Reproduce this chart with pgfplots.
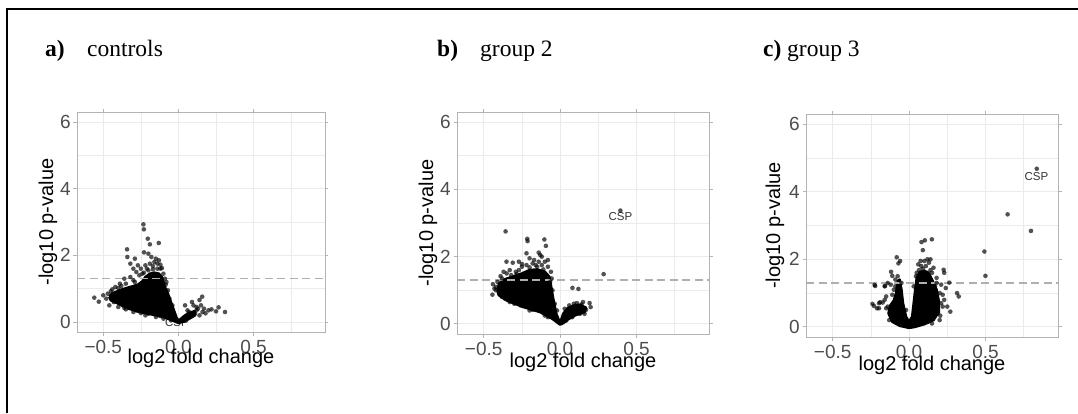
\documentclass[border=0pt]{standalone}
\usepackage{pgfplots}
\pgfplotsset{compat=1.18}
\usepackage{fontspec}
\setmainfont{Liberation Serif}
\newfontfamily\arial{Liberation Sans}
\definecolor{gridc}{HTML}{EBEBEB}
\definecolor{tickc}{HTML}{4D4D4D}
\definecolor{borderc}{HTML}{B3B3B3}
\definecolor{hlinec}{HTML}{AFAFAF}

\pgfplotsset{volc/.style={
  scale only axis,
  xmin=-0.675, xmax=0.975, ymin=-0.3, ymax=6.3,
  xtick={-0.5,0,0.5}, xticklabels={−0.5,0.0,0.5},
  ytick={0,2,4,6}, yticklabels={0,2,4,6},
  minor xtick={-0.25,0.25,0.75}, minor ytick={1,3,5},
  grid=both,
  major grid style={gridc, line width=0.9pt},
  minor grid style={gridc, line width=0.6pt},
  axis line style={borderc, line width=0.9pt},
  tick align=outside, major tick length=3.5pt, minor tick length=0pt,
  major tick style={borderc, line width=0.9pt},
  ticklabel style={font=\arial\fontsize{19}{19}\selectfont, text=tickc, inner sep=0pt},
  xticklabel style={anchor=base, yshift=-18pt},
  yticklabel style={anchor=east, xshift=-2.5pt},
  label style={font=\arial\fontsize{20}{20}\selectfont, inner sep=0pt},
  xlabel={log2 fold change}, ylabel={-log10 p-value},
  clip=true,
}}
\pgfplotsset{pts/.style={only marks, mark=*, mark size=2.3pt,
  mark options={fill=black, fill opacity=0.68, draw opacity=0, line width=0pt}}}
\pgfplotsset{blob/.style={fill=black, draw=black, line width=2.5pt, line join=round}}
\pgfplotsset{hl/.style={hlinec, line width=1.4pt, dash pattern=on 8pt off 4.5pt}}

\begin{document}
\begin{tikzpicture}[x=1pt,y=1pt]
\useasboundingbox (0,0) rectangle (1078,413);
\draw[line width=1.6pt] (7,0) -- (7,404) -- (1078,404);

% titles
\node[anchor=base west, inner sep=0pt, font=\fontsize{23.5}{24}\selectfont] at (45,356) {\textbf{a)}};
\node[anchor=base west, inner sep=0pt, font=\fontsize{23.5}{24}\selectfont] at (87,356) {controls};
\node[anchor=base west, inner sep=0pt, font=\fontsize{23.5}{24}\selectfont] at (437,356) {\textbf{b)}};
\node[anchor=base west, inner sep=0pt, font=\fontsize{23.5}{24}\selectfont] at (480,356) {group 2};
\node[anchor=base west, inner sep=0pt, font=\fontsize{23.5}{24}\selectfont] at (763,356) {\textbf{c)}};
\node[anchor=base west, inner sep=0pt, font=\fontsize{23.5}{24}\selectfont] at (787,356) {group 3};

% ---------------- panel a
\begin{axis}[volc, at={(77pt,81pt)}, anchor=south west, width=248pt, height=220pt,
  xlabel style={at={(axis description cs:0.5,-0.145)}, anchor=base},
  ylabel style={at={(axis description cs:-0.117,0.5)}, anchor=center}]
\node[font=\arial\fontsize{11.5}{12}\selectfont, text=black!80] at (axis cs:-0.01,-0.03) {CSP};
\addplot[blob] coordinates {
(-0.46,0.76) (-0.44,0.86) (-0.38,0.97) (-0.33,1.04) (-0.27,1.12) (-0.24,1.22) (-0.22,1.35)
(-0.19,1.45) (-0.16,1.48) (-0.13,1.45) (-0.11,1.35) (-0.1,1.2) (-0.09,1.05) (-0.07,0.85)
(-0.05,0.6) (-0.03,0.35) (-0.01,0.1) (0.0,0.03) (0.03,0.15) (0.06,0.25) (0.09,0.3)
(0.11,0.33) (0.11,0.2) (0.08,0.12) (0.04,0.02) (0.0,-0.03) (-0.04,0.05) (-0.1,0.15)
(-0.17,0.22) (-0.26,0.3) (-0.33,0.4) (-0.4,0.55) (-0.45,0.65) (-0.46,0.76)};
\addplot[pts] coordinates {
(-0.233,2.93) (-0.23,2.78) (-0.204,2.5) (-0.131,2.37) (-0.19,2.33) (-0.342,2.18) (-0.229,2.09)
(-0.29,1.9) (-0.34,1.95) (-0.32,1.75) (-0.3,1.6) (-0.27,1.7) (-0.2,2.05) (-0.18,1.95)
(-0.15,1.9) (-0.13,1.85) (-0.12,1.6) (-0.25,1.6) (-0.28,1.5) (-0.32,1.35) (-0.36,1.3)
(-0.39,1.15) (-0.42,1.05) (-0.45,0.92) (-0.47,0.85) (-0.56,0.73) (-0.53,0.61) (-0.4,0.45)
(-0.35,0.38) (-0.3,0.3) (-0.22,0.2) (-0.15,0.15) (-0.1,0.1) (0.02,0.05) (0.05,0.15)
(0.09,0.6) (0.044,0.5) (0.1,0.5) (0.12,0.45) (0.13,0.4) (0.14,0.66) (0.158,0.76) (0.16,0.3)
(0.18,0.26) (0.22,0.38) (0.267,0.44) (0.31,0.3) (0.14,0.2) (0.11,0.25) (0.07,0.3)
(-0.08,1.2) (-0.07,0.95) (-0.06,0.7) (-0.04,0.5) (-0.1,1.45) (-0.11,1.62) (-0.14,1.75)
(-0.17,1.68) (-0.21,1.6) (-0.24,1.45) (-0.19,1.75) (-0.16,1.8) (-0.12,1.72) (-0.22,1.7)
(-0.26,1.4) (-0.3,1.25) (-0.35,1.15) (-0.4,1.02) (-0.44,0.98) (-0.5,0.8) (-0.48,0.7)
(-0.43,0.6) (-0.37,0.5) (-0.28,0.35) (-0.2,0.25) (-0.12,0.18) (0.03,0.1) (0.06,0.35)
(0.08,0.2) (0.12,0.35) (0.15,0.5) (0.17,0.4) (0.2,0.35) (0.25,0.32)
(-0.2,1.55) (-0.17,1.58) (-0.14,1.6) (-0.23,1.48) (-0.09,1.3) (-0.085,1.12) (-0.29,1.2)
(-0.38,1.08) (-0.46,0.5) (-0.36,0.42) (-0.25,0.27) (-0.05,0.05)};
\addplot[hl] coordinates {(-0.675,1.3) (0.975,1.3)};
\end{axis}

% ---------------- panel b
\begin{axis}[volc, at={(457pt,79pt)}, anchor=south west, width=252pt, height=222pt,
  xlabel style={at={(axis description cs:0.5,-0.15)}, anchor=base},
  ylabel style={at={(axis description cs:-0.115,0.5)}, anchor=center}]
\addplot[blob] coordinates {
(-0.41,0.98) (-0.4,1.2) (-0.36,1.33) (-0.3,1.42) (-0.25,1.5) (-0.2,1.6) (-0.15,1.62)
(-0.1,1.55) (-0.07,1.4) (-0.06,1.15) (-0.045,0.75) (-0.025,0.3) (0.0,0.03) (0.02,0.3)
(0.05,0.47) (0.09,0.55) (0.13,0.57) (0.17,0.48) (0.16,0.35) (0.1,0.26) (0.05,0.13)
(0.02,0.02) (0.0,-0.02) (-0.05,0.15) (-0.13,0.35) (-0.24,0.5) (-0.35,0.7) (-0.4,0.85) (-0.41,0.98)};
\addplot[pts] coordinates {
(-0.357,2.75) (-0.215,2.53) (-0.213,2.46) (-0.103,2.51) (-0.093,2.32) (-0.351,1.85)
(-0.31,1.82) (-0.27,1.85) (-0.22,2.1) (-0.2,1.95) (-0.14,2.12) (-0.13,2.05) (-0.12,2.0)
(-0.08,1.9) (-0.17,1.9) (-0.25,1.78) (-0.44,1.18) (-0.443,0.87) (-0.42,1.1) (-0.38,1.35)
(-0.37,1.55) (-0.33,1.6) (-0.285,1.48) (0.285,1.48) (0.081,1.07) (0.12,1.04) (0.193,0.62)
(0.15,0.65) (0.11,0.62) (0.06,0.55) (0.03,0.45) (0.2,0.5) (0.17,0.42) (-0.06,1.55)
(-0.055,1.35) (-0.05,1.0) (-0.035,0.6) (-0.02,0.4) (-0.1,0.25) (-0.2,0.4) (-0.3,0.6)
(-0.36,0.75) (-0.4,0.9) (-0.42,1.0) (-0.36,1.2) (-0.39,1.42) (-0.32,1.45) (-0.08,1.7)
(-0.1,1.85) (-0.16,1.75) (-0.25,1.7) (-0.27,1.6) (-0.22,1.75) (-0.18,1.8) (-0.12,1.75)
(-0.14,1.85) (-0.35,1.5) (-0.41,1.25) (-0.43,1.05) (-0.38,0.8) (-0.33,0.65) (-0.26,0.55)
(-0.18,0.42) (-0.08,0.2) (0.04,0.1) (0.08,0.2) (0.13,0.3) (0.16,0.3) (0.14,0.58) (0.09,0.6)
(-0.2,1.68) (-0.15,1.7) (-0.11,1.62) (-0.29,1.55) (-0.065,1.25) (0.395,3.37)};
\node[font=\arial\fontsize{11.5}{12}\selectfont, text=black!80] at (axis cs:0.395,3.18) {CSP};
\addplot[hl] coordinates {(-0.675,1.3) (0.975,1.3)};
\end{axis}

% ---------------- panel c
\begin{axis}[volc, at={(806pt,76pt)}, anchor=south west, width=252pt, height=223pt,
  xlabel style={at={(axis description cs:0.5,-0.15)}, anchor=base},
  ylabel style={at={(axis description cs:-0.123,0.5)}, anchor=center}]
\addplot[blob] coordinates {
(0,-0.03) (-0.06,0.03) (-0.11,0.15) (-0.135,0.4) (-0.125,0.62) (-0.1,0.78) (-0.085,1.0)
(-0.075,1.35) (-0.062,1.4) (-0.05,1.1) (-0.04,0.7) (-0.02,0.3) (0.0,0.15) (0.02,0.3)
(0.03,0.7) (0.04,1.1) (0.05,1.45) (0.07,1.62) (0.1,1.66) (0.13,1.58) (0.15,1.4) (0.18,1.1)
(0.195,0.75) (0.195,0.45) (0.16,0.2) (0.1,0.08) (0.04,0.0) (0,-0.03)};
\addplot[pts] coordinates {
(0.836,4.68) (0.645,3.33) (0.798,2.84) (0.493,2.23) (0.5,1.51) (0.081,2.51) (0.103,2.56)
(0.149,2.59) (0.09,2.27) (-0.081,2.06) (-0.059,1.95) (-0.07,1.88) (-0.118,1.63) (-0.11,1.51)
(-0.222,1.21) (-0.158,1.21) (-0.197,0.70) (-0.173,0.72) (-0.197,0.55) (0.226,1.69) (0.23,1.6)
(0.314,1.0) (0.325,0.9) (0.263,1.31) (0.14,2.0) (0.075,1.95) (0.204,0.33) (0.12,2.0)
(0.1,1.95) (0.06,1.85) (0.13,1.9) (0.16,1.75) (0.18,1.3) (0.21,1.25) (0.24,1.15) (0.22,0.95)
(0.23,0.8) (0.22,0.6) (0.19,0.4) (0.12,0.15) (-0.14,1.3) (-0.12,1.25) (-0.1,1.1) (-0.15,0.9)
(-0.16,0.8) (-0.15,0.55) (-0.12,0.35) (-0.09,0.2) (-0.05,1.3) (-0.07,0.9) (-0.02,0.5)
(0.05,1.6) (0.12,1.6) (0.17,0.6) (0.25,0.6) (0.27,0.45) (0.18,1.45) (-0.09,1.4)
(-0.24,0.68) (-0.23,0.62) (-0.21,0.55) (-0.226,1.24) (-0.16,1.2) (-0.19,0.73) (0.08,1.8)
(0.11,1.8) (0.15,1.6) (0.2,1.0) (0.21,0.7) (0.2,0.2) (0.15,0.1) (-0.13,0.2) (-0.14,0.6)
(-0.11,0.95) (-0.09,1.2) (-0.075,1.5) (0.045,1.5) (0.03,1.2) (0.09,1.72) (0.065,1.68)
(0.14,1.68) (0.17,1.2)};
\node[font=\arial\fontsize{11.5}{12}\selectfont, text=black!80] at (axis cs:0.834,4.44) {CSP};
\addplot[hl] coordinates {(-0.675,1.3) (0.975,1.3)};
\end{axis}
\end{tikzpicture}
\end{document}
